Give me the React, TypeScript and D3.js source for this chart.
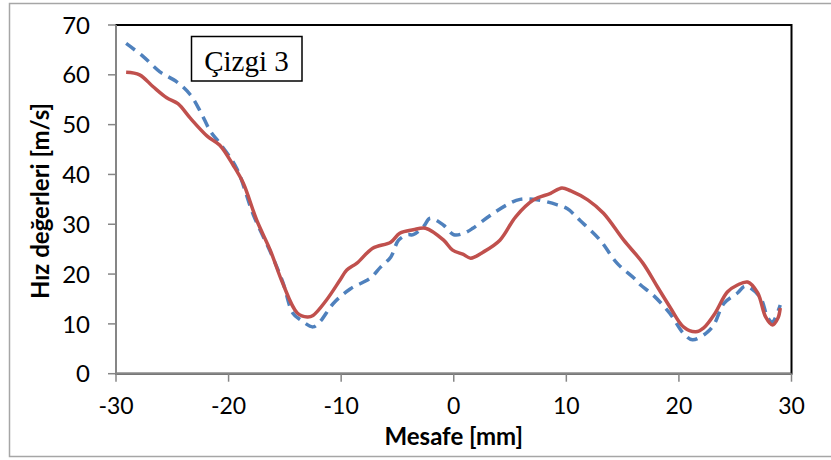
import React from "react";
import * as d3 from "d3";

const redX = [-29.1,-27.9,-26.7,-25.5,-24.5,-23.4,-21.9,-20.8,-19.6,-18.7,-17.5,-16.3,-15.2,-13.9,-13.0,-12.5,-11.3,-10.1,-9.5,-8.6,-7.2,-5.6,-4.8,-3.6,-2.5,-0.9,-0.1,0.8,1.5,2.6,4.1,5.5,7.1,8.6,9.6,10.4,11.9,13.3,15.1,16.8,18.1,19.2,20.4,21.5,22.2,23.2,24.3,25.2,26.1,27.0,27.7,28.3,28.8,29.0];
const redY = [60.5,60.0,57.6,55.4,54.2,51.3,47.7,45.9,41.9,38.3,30.8,24.8,18.2,12.2,11.4,11.7,14.8,18.8,20.8,22.2,25.2,26.4,28.2,28.9,29.2,26.8,24.8,24.0,23.2,24.4,26.8,31.5,34.9,36.2,37.3,36.7,34.9,32.2,26.8,22.2,17.4,13.4,9.4,8.4,9.2,12.1,16.4,17.8,18.4,16.2,11.4,9.8,11.2,13.2];

const blueX = [-29.1,-27.6,-26.1,-24.6,-23.4,-22.5,-21.6,-20.8,-19.3,-17.8,-16.3,-15.2,-14.3,-13.6,-12.5,-11.9,-10.7,-9.2,-7.4,-6.5,-5.6,-4.9,-4.1,-3.6,-2.7,-2.1,-0.9,0.0,0.9,1.7,3.2,4.8,5.9,7.4,9.2,10.1,11.2,13.0,14.5,16.0,16.6,17.7,19.2,20.4,21.2,22.4,23.1,24.0,25.2,25.9,27.2,27.9,28.3,29.0];
const blueY = [66.3,63.7,60.6,58.6,56.0,52.6,48.6,46.3,41.3,31.9,24.5,18.5,12.2,10.8,9.4,10.4,14.1,17.0,19.2,21.4,23.4,26.8,27.9,27.9,29.5,31.2,29.8,27.9,28.2,29.2,31.7,34.0,35.0,34.9,33.9,33.1,30.8,26.8,22.2,19.2,17.8,15.8,12.1,8.1,6.8,8.1,9.8,14.1,16.2,17.6,15.4,11.2,10.4,13.8];

const xTicks = [-30, -20, -10, 0, 10, 20, 30];
const yTicks = [0, 10, 20, 30, 40, 50, 60, 70];

const xLabel = "Mesafe [mm]";
const yLabel = "Hız değerleri [m/s]";
const legendText = "Çizgi 3";

export default function App() {
  const left = 116, right = 791.5, top = 25, bottom = 373.7;
  const x = d3.scaleLinear().domain([-30, 30]).range([left, right]);
  const y = d3.scaleLinear().domain([0, 70]).range([bottom, top]);
  const line = d3
    .line<[number, number]>()
    .x((d) => x(d[0]))
    .y((d) => y(d[1]))
    .curve(d3.curveCatmullRom.alpha(0.5));
  const red = redX.map((v, i) => [v, redY[i]] as [number, number]);
  const blue = blueX.map((v, i) => [v, blueY[i]] as [number, number]);
  const font = "Lato, 'Open Sans', sans-serif";
  const axisColor = "#868686";
  return (
    <svg
      width={831}
      height={460}
      style={{ position: "absolute", left: 0, top: 0, display: "block" }}
    >
      <rect x={0} y={0} width={831} height={460} fill="#fff" />
      <rect x={9.5} y={3.5} width={830} height={453} fill="none" stroke="#a6a6a6" strokeWidth={1.5} />
      <rect x={left} y={top} width={right - left} height={bottom - top} fill="#fff" stroke="#000" strokeWidth={2} />
      <line x1={left} x2={left} y1={top} y2={bottom} stroke={axisColor} strokeWidth={2} />
      <line x1={left} x2={right} y1={bottom} y2={bottom} stroke={axisColor} strokeWidth={2} />
      {yTicks.map((t) => (
        <g key={"y" + t}>
          <line x1={left - 8} x2={left} y1={y(t)} y2={y(t)} stroke={axisColor} strokeWidth={1.5} />
          <text x={90} y={y(t)} dy="0.36em" textAnchor="end" fontFamily={font} fontSize={24} fill="#000">
            {t}
          </text>
        </g>
      ))}
      {xTicks.map((t) => (
        <g key={"x" + t}>
          <line x1={x(t)} x2={x(t)} y1={bottom} y2={bottom + 8} stroke={axisColor} strokeWidth={1.5} />
          <text x={x(t)} y={414} textAnchor="middle" fontFamily={font} fontSize={23} fill="#000">
            {t}
          </text>
        </g>
      ))}
      <text x={(left + right) / 2} y={445} textAnchor="middle" fontFamily={font} fontWeight="bold" fontSize={24} fill="#000">
        {xLabel}
      </text>
      <text
        transform={`translate(49,201) rotate(-90)`}
        textAnchor="middle"
        fontFamily={font}
        fontWeight="bold"
        fontSize={24}
        fill="#000"
      >
        {yLabel}
      </text>
      <path d={line(blue) || ""} fill="none" stroke="#4F81BD" strokeWidth={3.5} strokeDasharray="11,7" />
      <path d={line(red) || ""} fill="none" stroke="#C0504D" strokeWidth={3.5} />
      <rect x={191.5} y={36.5} width={110.5} height={44.5} fill="#fff" stroke="#000" strokeWidth={1.5} />
      <text x={246.5} y={71} textAnchor="middle" fontFamily="'Liberation Serif', 'Times New Roman', serif" fontSize={29} fill="#000">
        {legendText}
      </text>
    </svg>
  );
}
